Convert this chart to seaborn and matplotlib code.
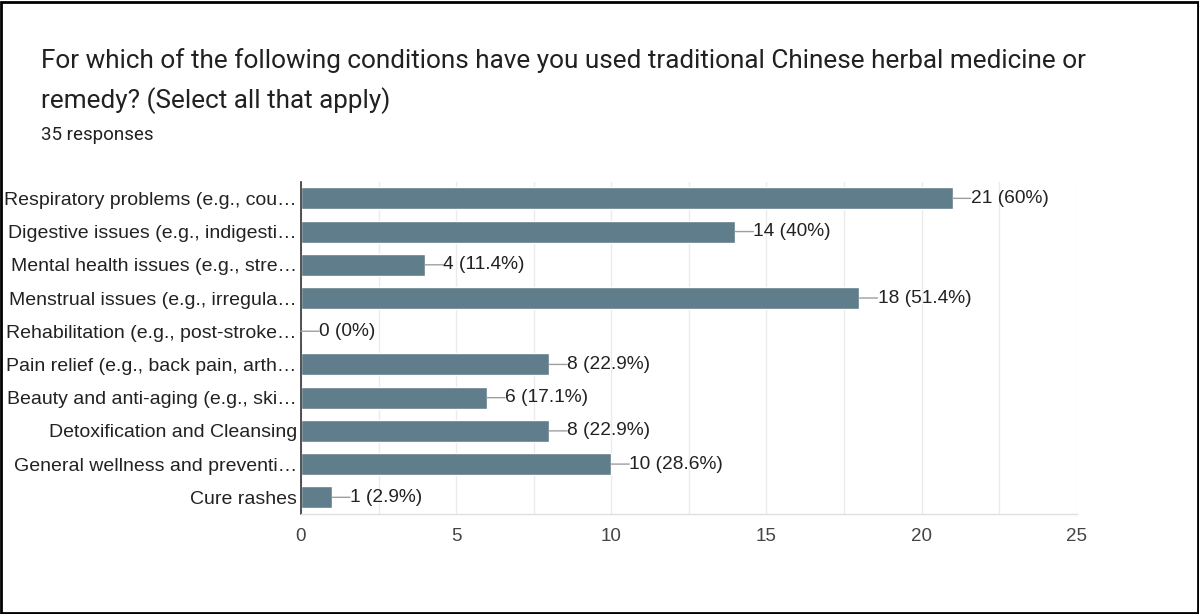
import matplotlib
matplotlib.use("Agg")
import matplotlib.pyplot as plt
import seaborn as sns
import pandas as pd
from matplotlib.patches import Rectangle

categories = [
    "Respiratory problems (e.g., cou…",
    "Digestive issues (e.g., indigesti…",
    "Mental health issues (e.g., stre…",
    "Menstrual issues (e.g., irregula…",
    "Rehabilitation (e.g., post-stroke…",
    "Pain relief (e.g., back pain, arth…",
    "Beauty and anti-aging (e.g., ski…",
    "Detoxification and Cleansing",
    "General wellness and preventi…",
    "Cure rashes",
]
counts = [21, 14, 4, 18, 0, 8, 6, 8, 10, 1]
labels = ["21 (60%)", "14 (40%)", "4 (11.4%)", "18 (51.4%)", "0 (0%)",
          "8 (22.9%)", "6 (17.1%)", "8 (22.9%)", "10 (28.6%)", "1 (2.9%)"]
x_ticks = [0, 5, 10, 15, 20, 25]
title_lines = ["For which of the following conditions have you used traditional Chinese herbal medicine or",
               "remedy? (Select all that apply)"]
subtitle = "35 responses"

sns.set_theme(style="white")
plt.rcParams['font.family'] = ['Liberation Sans', 'DejaVu Sans']

df = pd.DataFrame({"category": categories, "count": counts})

fig = plt.figure(figsize=(11.99, 6.14), dpi=100)
ax = fig.add_axes([0.251, 0.163, 0.647, 0.541])
sns.barplot(data=df, y="category", x="count", color="#607d8b", saturation=1,
            width=0.66, ax=ax, orient="h")

ax.set_xlim(0, 25)
ax.set_ylim(len(categories) - 0.5, -0.5)
ax.set_xticks(x_ticks)
ax.set_xticklabels([str(t) for t in x_ticks], fontsize=13.5, color="#444444")
ax.set_xticks([2.5 * i for i in range(11)], minor=True)
ax.grid(True, axis="x", which="both", color="#ebebeb", linewidth=1)
ax.set_axisbelow(True)
ax.tick_params(axis="y", labelsize=14, labelcolor="#222222", length=0, pad=3)
ax.tick_params(axis="x", length=0, pad=10)
ax.set_xlabel("")
ax.set_ylabel("")
for s in ["top", "right"]:
    ax.spines[s].set_visible(False)
ax.spines["bottom"].set_color("#e0e0e0")
ax.spines["left"].set_color("#333333")
ax.spines["left"].set_linewidth(1.2)
ax.spines["bottom"].set_linewidth(1)

for i, (v, lab) in enumerate(zip(counts, labels)):
    ax.annotate("", xy=(v, i), xytext=(13, 0), textcoords="offset points",
                arrowprops=dict(arrowstyle="-", color="#9e9e9e", lw=1, shrinkA=0, shrinkB=0))
    ax.annotate(lab, xy=(v, i), xytext=(13, 0), textcoords="offset points",
                va="center", ha="left", fontsize=13.8, color="#222222")

fig.text(0.034, 0.902, title_lines[0], fontsize=18.8, color="#212121", va="center", ha="left",
         family=["Roboto", "DejaVu Sans"])
fig.text(0.034, 0.836, title_lines[1], fontsize=18.8, color="#212121", va="center", ha="left",
         family=["Roboto", "DejaVu Sans"])
fig.text(0.034, 0.780, subtitle, fontsize=13.5, color="#212121", va="center", ha="left",
         family=["Roboto", "DejaVu Sans"])

fig.patches.append(Rectangle((0.001, 0.002), 0.998, 0.995, transform=fig.transFigure,
                             fill=False, edgecolor="black", linewidth=2))

fig.savefig("out.png", dpi=100)
